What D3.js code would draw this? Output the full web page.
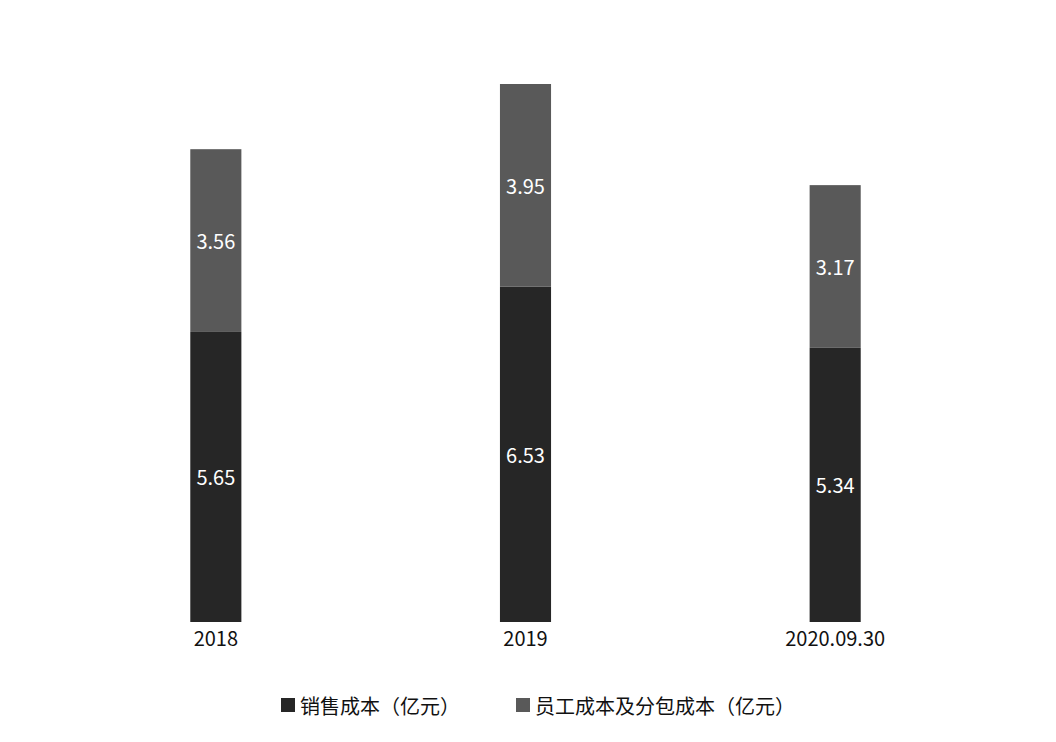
<!DOCTYPE html>
<html><head><meta charset="utf-8">
<script src="https://cdn.jsdelivr.net/npm/d3@7"></script>
<style>body{margin:0;background:#fff}</style>
</head><body>
<script>
const width = 1056, height = 742;
const categories = ['2018', '2019', '2020.09.30'];
const salesCost = [5.65, 6.53, 5.34];
const staffCost = [3.56, 3.95, 3.17];
const seriesNames = ['销售成本（亿元）', '员工成本及分包成本（亿元）'];
const colors = ['#262626', '#595959'];
const font = '"Noto Sans CJK SC", "Noto Sans", sans-serif';

const svg = d3.select('body').append('svg').attr('width', width).attr('height', height);

const x = d3.scaleBand().domain(categories).range([61, 990])
  .paddingInner(0.835).paddingOuter(0.4175);
const y = d3.scaleLinear().domain([0, 10.48]).range([622, 84]);

const rows = categories.map((c, i) => ({ cat: c, s0: salesCost[i], s1: staffCost[i] }));
const stack = d3.stack().keys(['s0', 's1'])(rows);

stack.forEach((layer, li) => {
  const g = svg.append('g');
  g.selectAll('rect').data(layer).enter().append('rect')
    .attr('x', d => x(d.data.cat)).attr('width', x.bandwidth())
    .attr('y', d => y(d[1])).attr('height', d => y(d[0]) - y(d[1]))
    .attr('fill', colors[li]);
  g.selectAll('text').data(layer).enter().append('text')
    .attr('x', d => x(d.data.cat) + x.bandwidth() / 2)
    .attr('y', d => (y(d[0]) + y(d[1])) / 2)
    .attr('text-anchor', 'middle').attr('dominant-baseline', 'central')
    .attr('fill', '#fff').style('font', `20px ${font}`)
    .text(d => (d[1] - d[0]).toFixed(2));
});

const xAxis = svg.append('g').attr('transform', 'translate(0,622)')
  .call(d3.axisBottom(x).tickSize(0).tickPadding(10));
xAxis.select('.domain').remove();
xAxis.selectAll('text').attr('fill', '#111').style('font', `20px ${font}`);

// legend
const legendX = [281, 516];
const legend = svg.append('g');
seriesNames.forEach((n, i) => {
  legend.append('rect').attr('x', legendX[i]).attr('y', 698).attr('width', 14).attr('height', 14).attr('fill', colors[i]);
  legend.append('text').attr('x', legendX[i] + 19).attr('y', 705)
    .attr('dominant-baseline', 'central').attr('fill', '#111')
    .style('font', `20px ${font}`).text(n);
});
</script>
</body></html>
